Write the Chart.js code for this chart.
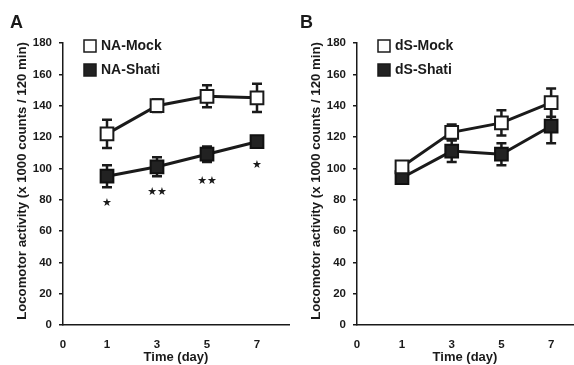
<!DOCTYPE html>
<html>
<head>
<meta charset="utf-8">
<script src="https://cdn.jsdelivr.net/npm/chart.js@4"></script>
<style>
  body { margin: 0; background: #fff; }
  .wrap { position: relative; width: 574px; height: 365px; }
  .panel { position: absolute; top: 0; height: 365px; }
</style>
</head>
<body>
<div class="wrap">
  <div class="panel" style="left:0;width:290px"><canvas id="chartA"></canvas></div>
  <div class="panel" style="left:290px;width:284px"><canvas id="chartB"></canvas></div>
</div>
<script>
// days and y ticks
var days = [1, 3, 5, 7];
var yTicks = [0, 20, 40, 60, 80, 100, 120, 140, 160, 180];
var yTitle = 'Locomotor activity (x 1000 counts / 120 min)';

// panel A
var naMock = [122, 140, 146, 145];
var naMockErr = [9, 4, 7, 9];
var naShati = [95, 101, 109, 117];
var naShatiErr = [7, 6, 5, 3];
var naStars = ['★', '★★', '★★', '★'];
var naStarY = [78, 85, 92, 102];

// panel B
var dsMock = [101, 123, 129, 142];
var dsMockErr = [3, 5, 8, 9];
var dsShati = [94, 111, 109, 127];
var dsShatiErr = [3, 7, 7, 11];

var FONT = "'Liberation Sans', Arial, sans-serif";
var INK = '#1a1a1a';

var errorBars = {
  id: 'errorBars',
  beforeDatasetsDraw: function (chart) {
    var ctx = chart.ctx, y = chart.scales.y;
    ctx.save();
    ctx.strokeStyle = INK;
    ctx.lineWidth = 2.5;
    chart.data.datasets.forEach(function (ds, di) {
      var meta = chart.getDatasetMeta(di);
      meta.data.forEach(function (pt, i) {
        var v = ds.data[i].y, e = ds.err[i];
        var top = y.getPixelForValue(v + e), bot = y.getPixelForValue(v - e);
        ctx.beginPath();
        ctx.moveTo(pt.x, top); ctx.lineTo(pt.x, bot);
        ctx.moveTo(pt.x - 5, top); ctx.lineTo(pt.x + 5, top);
        ctx.moveTo(pt.x - 5, bot); ctx.lineTo(pt.x + 5, bot);
        ctx.stroke();
      });
    });
    ctx.restore();
  },
  afterDraw: function (chart) {
    var ctx = chart.ctx, o = chart.options.plugins.errorBars;
    var area = chart.chartArea, x = chart.scales.x, y = chart.scales.y;
    ctx.save();
    // panel letter
    ctx.fillStyle = INK;
    ctx.font = 'bold 18px ' + FONT;
    ctx.textBaseline = 'alphabetic';
    ctx.fillText(o.letter, 10, 28);
    // y axis title
    ctx.save();
    ctx.translate(area.left - 41, 181);
    ctx.rotate(-Math.PI / 2);
    ctx.font = 'bold 13.2px ' + FONT;
    ctx.textAlign = 'center';
    ctx.textBaseline = 'middle';
    ctx.fillText(yTitle, 0, 0);
    ctx.restore();
    // legend
    chart.data.datasets.forEach(function (ds, i) {
      var ly = area.top + 3 + i * 24;
      ctx.fillStyle = ds.backgroundColor;
      ctx.fillRect(area.left + 21, ly - 6, 12, 12);
      ctx.strokeStyle = INK;
      ctx.lineWidth = 1.5;
      ctx.strokeRect(area.left + 21, ly - 6, 12, 12);
      ctx.fillStyle = INK;
      ctx.font = 'bold 14px ' + FONT;
      ctx.textAlign = 'left';
      ctx.textBaseline = 'middle';
      ctx.fillText(ds.label, area.left + 38, ly);
    });
    // significance stars
    if (o.stars) {
      ctx.font = '11px "DejaVu Sans", sans-serif';
      ctx.textAlign = 'center';
      ctx.textBaseline = 'middle';
      o.stars.forEach(function (s, i) {
        ctx.fillText(s, x.getPixelForValue(i + 1), y.getPixelForValue(o.starY[i]));
      });
    }
    ctx.restore();
  }
};

function makePanel(id, letter, mock, mockErr, shati, shatiErr, names, xmin, xmax, leftW, stars, starY) {
  var pts = function (arr) { return arr.map(function (v, i) { return { x: i + 1, y: v }; }); };
  new Chart(document.getElementById(id), {
    type: 'line',
    data: {
      datasets: [{
        label: names[0],
        data: pts(mock),
        err: mockErr,
        borderColor: INK,
        borderWidth: 3,
        backgroundColor: '#ffffff',
        pointStyle: 'rect',
        pointRadius: 9,
        pointBorderWidth: 2,
        pointBorderColor: INK,
        pointBackgroundColor: '#ffffff'
      }, {
        label: names[1],
        data: pts(shati),
        err: shatiErr,
        borderColor: INK,
        borderWidth: 3,
        backgroundColor: '#222222',
        pointStyle: 'rect',
        pointRadius: 9,
        pointBorderWidth: 2,
        pointBorderColor: '#111111',
        pointBackgroundColor: '#222222'
      }]
    },
    options: {
      responsive: true,
      maintainAspectRatio: false,
      animation: false,
      layout: { autoPadding: false, padding: { top: 43, right: 1, left: 0, bottom: 0 } },
      plugins: {
        legend: { display: false },
        tooltip: { enabled: false },
        errorBars: { letter: letter, stars: stars, starY: starY }
      },
      scales: {
        x: {
          type: 'linear',
          min: xmin,
          max: xmax,
          afterBuildTicks: function (scale) {
            scale.ticks = [{ value: xmin }].concat(days.map(function (d, i) { return { value: i + 1 }; }));
          },
          afterFit: function (scale) { scale.height = 40; },
          grid: { display: false },
          border: { color: INK, width: 1.5 },
          ticks: {
            color: INK,
            padding: 5,
            font: { family: FONT, size: 11.5, weight: 'bold' },
            callback: function (v, i) { return i === 0 ? '0' : String(days[i - 1]); }
          },
          title: {
            display: true,
            text: 'Time (day)',
            color: INK,
            padding: { top: 1, bottom: 0 },
            font: { family: FONT, size: 13, weight: 'bold' }
          }
        },
        y: {
          min: 0,
          max: 180,
          afterBuildTicks: function (scale) {
            scale.ticks = yTicks.map(function (v) { return { value: v }; });
          },
          afterFit: function (scale) { scale.width = leftW; },
          grid: { drawOnChartArea: false, color: INK, lineWidth: 1.5, tickLength: 4 },
          border: { color: INK, width: 1.5 },
          ticks: {
            color: INK,
            padding: 7,
            font: { family: FONT, size: 11.5, weight: 'bold' }
          },
          title: { display: false }
        }
      }
    },
    plugins: [errorBars]
  });
}

makePanel('chartA', 'A', naMock, naMockErr, naShati, naShatiErr, ['NA-Mock', 'NA-Shati'], 0.12, 4.64, 63, naStars, naStarY);
makePanel('chartB', 'B', dsMock, dsMockErr, dsShati, dsShatiErr, ['dS-Mock', 'dS-Shati'], 0.095, 4.44, 67, null, null);
</script>
</body>
</html>
